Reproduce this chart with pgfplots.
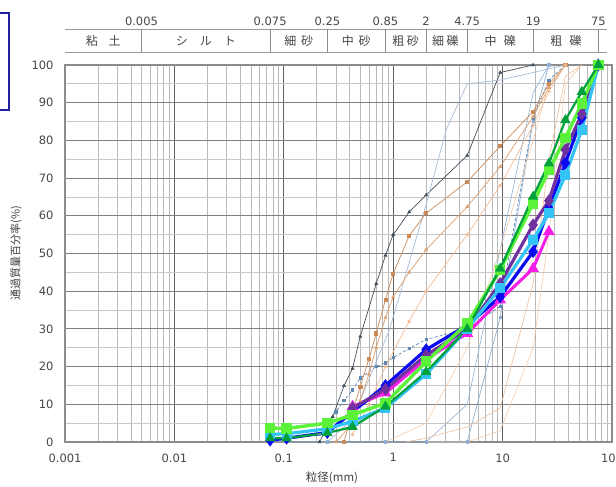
\documentclass[border=0pt]{standalone}
\usepackage{fontspec}
\setmainfont{DejaVu Sans}
\newfontfamily\jp{Noto Sans CJK JP}
\usepackage{pgfplots}
\pgfplotsset{compat=1.18}

\definecolor{lgreen}{HTML}{5CF23A}
\definecolor{dgreen}{HTML}{00A03C}
\definecolor{cyanb}{HTML}{33C3F5}
\definecolor{blueb}{HTML}{0A0AF0}
\definecolor{purpleb}{HTML}{7030A0}
\definecolor{magb}{HTML}{F51EE6}
\definecolor{slate}{HTML}{404E5C}
\definecolor{steel}{HTML}{5E88B5}
\definecolor{lblue}{HTML}{8FB0D4}
\definecolor{gblue}{HTML}{A8BCD4}
\definecolor{brownor}{HTML}{C98A58}
\definecolor{orng}{HTML}{DDA070}
\definecolor{peach}{HTML}{F0BC98}
\definecolor{lorng}{HTML}{F2C9A8}
\definecolor{boxblue}{HTML}{2020A0}

\begin{document}
\begin{tikzpicture}
\useasboundingbox (0pt,0pt) rectangle (616pt,487pt);
\begin{axis}[
  at={(65pt,45pt)}, anchor=south west,
  scale only axis, width=547pt, height=377pt,
  xmode=log, xmin=0.001, xmax=100, ymin=0, ymax=100,
  xtick={0.001,0.01,0.1,1,10,100},
  xticklabels={0.001,0.01,0.1,1,10,100},
  minor xtick={0.002,0.003,0.004,0.005,0.006,0.007,0.008,0.009,
               0.02,0.03,0.04,0.05,0.06,0.07,0.08,0.09,
               0.2,0.3,0.4,0.5,0.6,0.7,0.8,0.9,
               2,3,4,5,6,7,8,9,20,30,40,50,60,70,80,90},
  ytick={0,10,...,100},
  minor ytick={5,15,...,95},
  grid=both,
  major x grid style={black!62, line width=0.9pt},
  minor x grid style={black!28, line width=0.7pt},
  major y grid style={black!50, line width=1.1pt},
  minor y grid style={black!22, line width=0.7pt},
  tick style={draw=none},
  axis line style={draw=black!45, line width=1.4pt},
  tick label style={font=\fontsize{11.5}{12}\selectfont, text=black!72},
  xticklabel style={yshift=-8pt},
  yticklabel style={xshift=-8pt},
  /pgf/number format/assume math mode=true,
  clip=false,
]

% ---- thin lines (individual samples)
\addplot[slate, line width=0.7pt, mark=triangle*, mark size=1.6pt] coordinates {
(0.212,0) (0.28,6.7) (0.355,14.9) (0.425,19.5) (0.5,28) (0.7,42) (0.85,49.5)
(1.0,55) (1.4,61) (2,65.5) (4.75,76) (9.5,98) (19,100)};
\addplot[steel, line width=0.7pt, densely dashed, mark=square*, mark size=1.2pt, mark options={solid}] coordinates {
(0.212,2) (0.3,8) (0.355,11) (0.425,13.8) (0.5,17) (0.7,20) (0.85,21) (1.0,22.4)
(1.4,24.8) (2,27.2) (4.75,30) (9.5,36) (19,86) (26.5,96) (37.5,100)};
\addplot[lblue, line width=0.7pt, mark=square*, mark size=1.2pt] coordinates {
(0.075,0) (0.25,0) (0.85,0) (2,0) (4.75,0) (9.5,33) (19,85) (26.5,100)};
\addplot[gblue, line width=0.7pt] coordinates {
(0.25,0) (0.425,6) (0.93,30) (2,63) (3.07,83) (4.75,95) (9.5,96) (19,98) (37.5,100)};
\addplot[lblue, line width=0.6pt] coordinates {
(2,0) (4.75,10) (9.5,51) (19,92.5) (26.5,100)};
\addplot[brownor, line width=0.7pt, mark=square*, mark size=1.6pt] coordinates {
(0.355,0) (0.425,8) (0.5,14.7) (0.6,22) (0.7,28.8) (0.85,37.8) (1.0,44.7) (1.4,54.7)
(2,60.7) (4.75,69) (9.5,78.5) (19,87.6) (26.5,95) (37.5,100)};
\addplot[orng, line width=0.7pt, mark=triangle*, mark size=1.6pt] coordinates {
(0.3,0) (0.425,5) (0.5,11) (0.6,18) (0.7,25) (0.85,33) (1.0,38.5) (1.4,45)
(2,51) (4.75,62.4) (9.5,73) (19,86.3) (26.5,94) (37.5,100)};
\addplot[peach, line width=0.7pt, mark=*, mark size=1.4pt] coordinates {
(0.425,2) (0.6,10) (0.85,20) (1.4,32) (2,40) (4.75,55) (9.5,68) (19,84) (26.5,93) (37.5,100)};
\addplot[lorng, line width=0.6pt] coordinates {
(0.85,0) (2,5) (4.75,25) (9.5,51) (19,80) (26.5,95) (37.5,100)};
\addplot[peach, line width=0.6pt] coordinates {
(1.3,0) (2,1) (4.75,4) (9.5,9) (19,42) (26.5,75) (37.5,97) (53,100)};
\addplot[lorng, line width=0.6pt] coordinates {
(2,0) (4.75,0) (9.5,3) (19,25) (26.5,55) (37.5,95) (53,100)};

% ---- thick lines
\addplot[magb, line width=3pt, mark=triangle*, mark size=3.8pt] coordinates {
(0.425,9.4) (0.85,13) (2,22) (4.75,28.8) (9.5,37.7) (19,46) (26.5,55.8)};
\addplot[blueb, line width=3.2pt, mark=diamond*, mark size=3.8pt] coordinates {
(0.075,0.5) (0.106,1) (0.25,2.5) (0.425,8) (0.85,15) (2,24.5) (4.75,31) (9.5,38.5)
(19,50.5) (26.5,62) (37.5,74) (53,86) (75,100)};
\addplot[purpleb, line width=3.2pt, mark=diamond*, mark size=3.8pt] coordinates {
(0.425,9) (0.85,14) (2,23) (4.75,30) (9.5,42) (19,57.6) (26.5,64) (37.5,77.5) (53,87) (75,100)};
\addplot[cyanb, line width=3.2pt, mark=square*, mark size=3.4pt] coordinates {
(0.075,2) (0.106,2.2) (0.25,3.5) (0.425,5.5) (0.85,9) (2,18) (4.75,30) (9.5,40.8)
(19,53.6) (26.5,60.7) (37.5,70.8) (53,82.8) (75,100)};
\addplot[lgreen, line width=3.4pt, mark=square*, mark size=3.6pt] coordinates {
(0.075,3.7) (0.106,3.6) (0.25,5) (0.425,7.2) (0.85,10.3) (2,21.3) (4.75,31.5) (9.5,45.6)
(19,63.3) (26.5,72.1) (37.5,80.6) (53,89.8) (75,100)};
\addplot[dgreen, line width=2.2pt, mark=triangle*, mark size=3.8pt] coordinates {
(0.075,1) (0.106,1) (0.25,2.4) (0.425,4) (0.85,9.4) (2,18.6) (4.75,30) (9.5,46)
(19,65.1) (26.5,73.9) (37.5,85.4) (53,92.9) (75,100)};

% ---- soil classification band above the plot
\draw[black!40, line width=1pt] (axis cs:0.001,109.5) -- (axis cs:90,109.5);
\draw[black!40, line width=1pt] (axis cs:0.001,103.2) -- (axis cs:90,103.2);
\pgfplotsinvokeforeach{0.005,0.075,0.25,0.85,2,4.75,19,75}{
  \draw[black!45, line width=0.9pt] (axis cs:#1,103.2) -- (axis cs:#1,109.5);
  \node[font=\fontsize{11.5}{12}\selectfont, text=black!72] at (axis cs:#1,111.6) {#1};
}
\node[font=\jp\fontsize{12}{12}\selectfont, text=black!72] at (axis cs:0.00224,106.3) {粘\hspace{0.9em}土};
\node[font=\jp\fontsize{12}{12}\selectfont, text=black!72] at (axis cs:0.0194,106.3) {シ\hspace{1em}ル\hspace{1em}ト};
\node[font=\jp\fontsize{12}{12}\selectfont, text=black!72] at (axis cs:0.137,106.3) {細\hspace{0.4em}砂};
\node[font=\jp\fontsize{12}{12}\selectfont, text=black!72] at (axis cs:0.46,106.3) {中\hspace{0.4em}砂};
\node[font=\jp\fontsize{12}{12}\selectfont, text=black!72] at (axis cs:1.3,106.3) {粗\hspace{0.2em}砂};
\node[font=\jp\fontsize{12}{12}\selectfont, text=black!72] at (axis cs:3.0,106.3) {細\hspace{0.2em}礫};
\node[font=\jp\fontsize{12}{12}\selectfont, text=black!72] at (axis cs:9.5,106.3) {中\hspace{0.6em}礫};
\node[font=\jp\fontsize{12}{12}\selectfont, text=black!72] at (axis cs:38,106.3) {粗\hspace{0.6em}礫};
\end{axis}

% axis titles
\node[font=\jp\fontsize{11.5}{12}\selectfont, text=black!75] at (332pt,9pt) {粒径(mm)};
\node[font=\jp\fontsize{11}{12}\selectfont, text=black!75, rotate=90] at (16pt,234pt) {通過質量百分率(\%)};

% partial frame at the upper left
\draw[boxblue, line width=1.4pt] (-2pt,474pt) -- (9pt,474pt) -- (9pt,377pt) -- (-2pt,377pt);
\end{tikzpicture}
\end{document}
